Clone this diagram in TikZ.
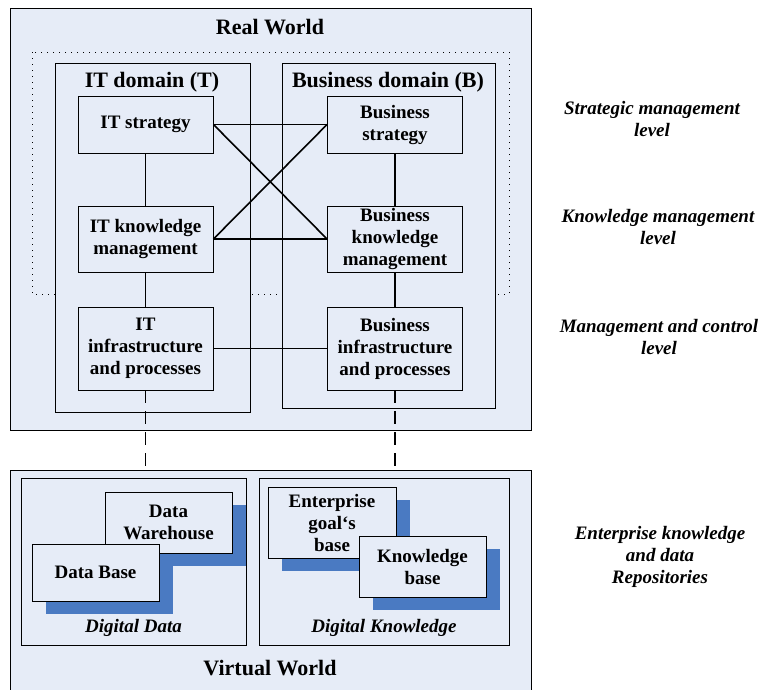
\documentclass[tikz,border=0pt]{standalone}
\usepackage{fontspec}
\setmainfont{Liberation Serif}
\usetikzlibrary{positioning,shadows}
\definecolor{pane}{HTML}{E6ECF7}
\definecolor{shade}{HTML}{4A7AC2}

\begin{document}
\begin{tikzpicture}[x=1pt, y=-1pt, on grid, node distance=249.5pt,
	panel/.style={draw, fill=pane, line width=1pt, inner sep=0pt},
	box/.style={draw, fill=pane, line width=0.9pt, align=center, inner sep=0pt,
		minimum width=135pt, font=\fontsize{19}{22}\selectfont\bfseries},
	store/.style={box, minimum width=127pt,
		general shadow={fill=shade, shadow xshift=14pt, shadow yshift=-13pt}},
	head/.style={font=\fontsize{22}{24}\selectfont\bfseries},
	level/.style={align=center, font=\fontsize{19}{22}\selectfont\bfseries\itshape},
	link/.style={line width=1.6pt}]
	\useasboundingbox (0,0) rectangle (760,689);

	\node[panel, minimum width=521pt, minimum height=422pt] (real) at (270.5,219) {};
	\node[panel, minimum width=521pt, minimum height=222pt] (virt) at (270.5,581) {};
	\draw[line width=1pt, dash pattern=on 1pt off 5pt] (32,52) rectangle (509,294);
	\node[panel, minimum width=195pt, minimum height=349pt] (itd) at (152.5,237.5) {};
	\node[panel, minimum width=213pt, minimum height=345pt] (bd) at (388.5,235.5) {};

	\node[head] at (270,27) {Real World};
	\node[head] at (152,82) {IT domain (T)};
	\node[head] at (388,82) {Business domain (B)};

	\node[box, minimum height=57pt] (its) at (145.5,124.5) {IT strategy};
	\node[box, minimum height=57pt] (bs) [right=of its] {Business\\strategy};
	\node[box, minimum height=66pt] (itk) [below=114.5pt of its] {IT knowledge\\management};
	\node[box, minimum height=66pt] (bk) [right=of itk] {Business\\knowledge\\management};
	\node[box, minimum height=83pt] (iti) [below=109.5pt of itk] {IT\\infrastructure\\and processes};
	\node[box, minimum height=83pt] (bi) [right=of iti] {Business\\infrastructure\\and processes};

	\path[link]
		(its) edge (itk)
		(itk) edge (iti)
		(bs) edge (bk)
		(bk) edge (bi)
		(its) edge (bs)
		(itk) edge (bk)
		(its.east) edge (bk.west)
		(itk.east) edge (bs.west)
		(iti) edge (bi);
	\draw[link, dash pattern=on 13pt off 8pt] (iti) -- (iti |- virt.north);
	\draw[link, dash pattern=on 13pt off 8pt] (bi) -- (bi |- virt.north);

	\node[panel, minimum width=225pt, minimum height=167pt] (dd) at (133.5,561.5) {};
	\node[panel, minimum width=250pt, minimum height=167pt] (dk) at (384,561.5) {};
	\node[store, minimum height=61pt] (dw) at (168.5,522.5) {Data\\Warehouse};
	\node[store, minimum height=57pt] (db) at (95.5,572.5) {Data Base};
	\node[store, minimum height=71pt, minimum width=128pt] (eg) at (332,522.5) {Enterprise\\goal‘s\\base};
	\node[store, minimum height=61pt] (kb) at (422.5,566.5) {Knowledge\\base};
	\node[level] at (133.5,628) {Digital Data};
	\node[level] at (384,628) {Digital Knowledge};
	\node[head] at (270,668) {Virtual World};

	\node[level] at (652,118.5) {Strategic management\\level};
	\node[level] at (658,226.5) {Knowledge management\\level};
	\node[level] at (659,336.5) {Management and control\\level};
	\node[level] at (660,556.5) {Enterprise knowledge\\and data\\Repositories};
\end{tikzpicture}
\end{document}
